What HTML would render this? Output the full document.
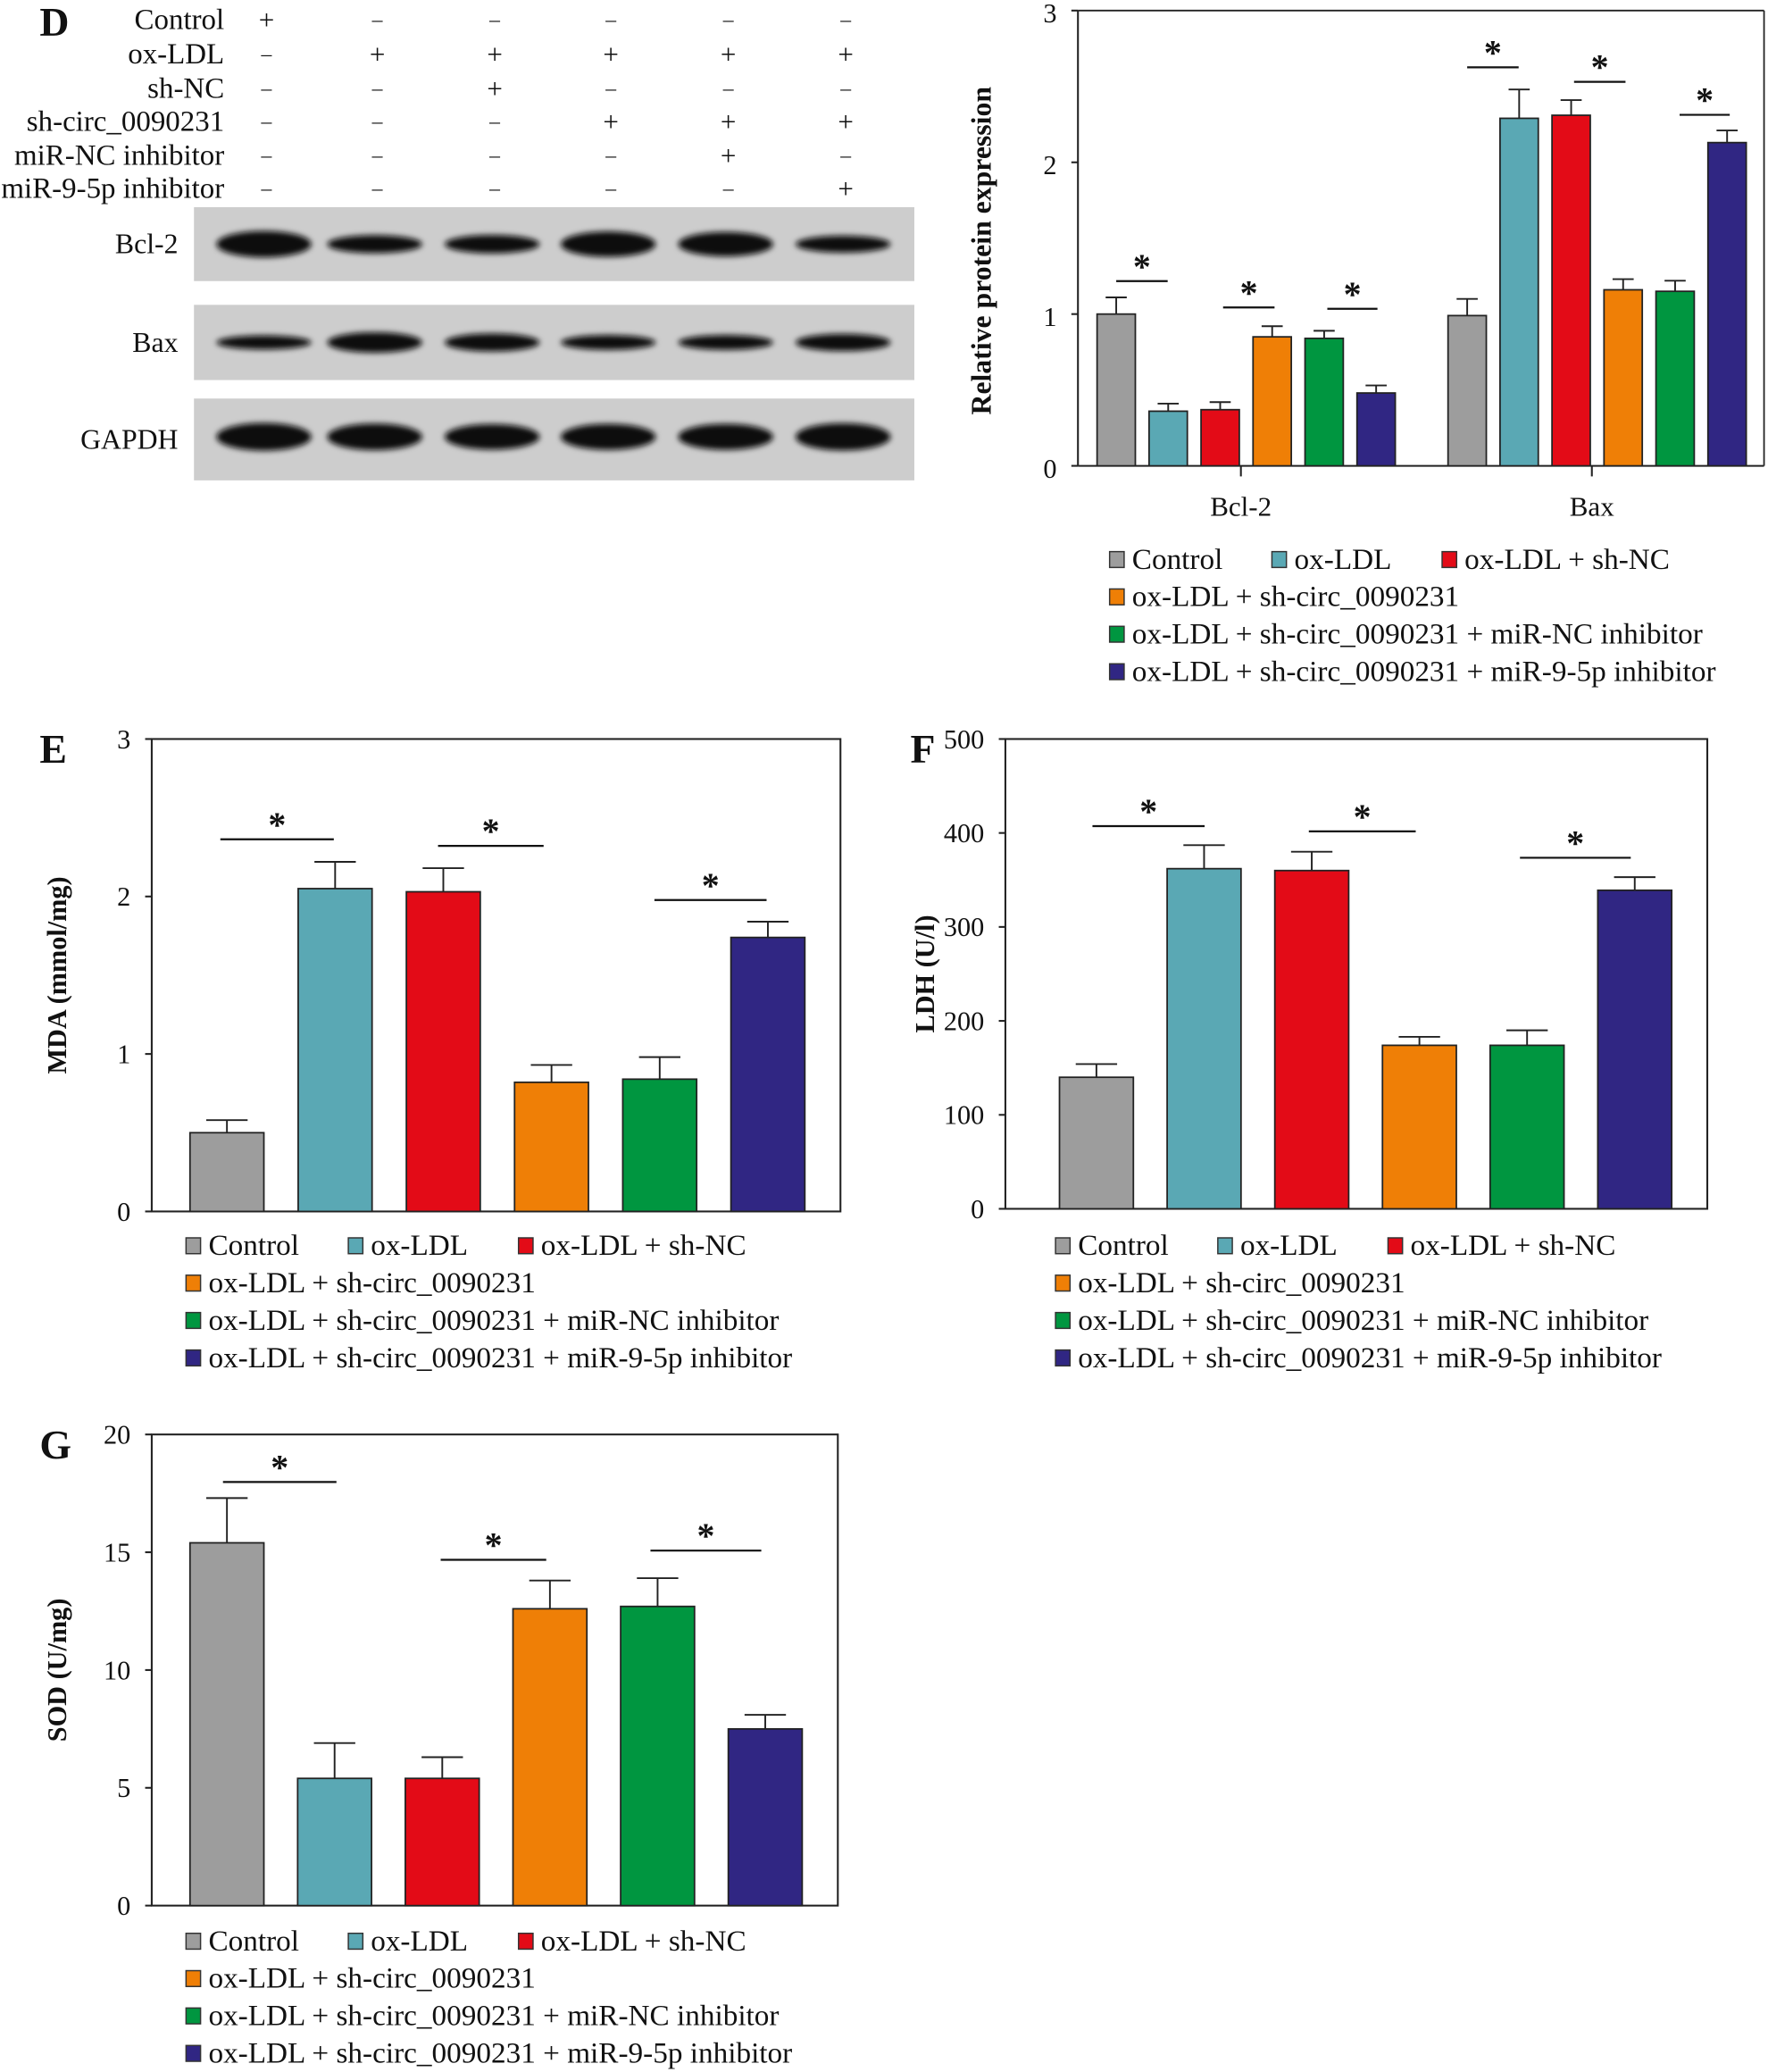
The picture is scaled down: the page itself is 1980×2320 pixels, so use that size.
<!DOCTYPE html>
<html><head><meta charset="utf-8"><style>
html,body{margin:0;padding:0;background:#fff}
svg{display:block}
text{font-family:"Liberation Serif",serif;fill:#111}
</style></head><body>
<svg id="fig" width="1980" height="2320" viewBox="0 0 1340 1570.1" preserveAspectRatio="none" xmlns="http://www.w3.org/2000/svg">
<defs><filter id="blur" x="-20%" y="-50%" width="140%" height="200%"><feGaussianBlur stdDeviation="2.2"/></filter></defs>
<g id="root"></g>
</svg>
<script>
const groups = ["Control","ox-LDL","ox-LDL + sh-NC","ox-LDL + sh-circ_0090231","ox-LDL + sh-circ_0090231 + miR-NC inhibitor","ox-LDL + sh-circ_0090231 + miR-9-5p inhibitor"];
const colors = ["#9d9d9d","#5aa8b4","#e30b17","#ef7f06","#009640","#302683"];
// Panel D
const proteinCategories = ["Bcl-2","Bax"];
const bcl2Values = [1.0,0.36,0.37,0.85,0.84,0.48];
const bcl2Errors = [0.11,0.05,0.05,0.07,0.05,0.05];
const baxValues = [0.99,2.29,2.31,1.16,1.15,2.13];
const baxErrors = [0.11,0.19,0.10,0.07,0.07,0.08];
const dTicks = [0,1,2,3];
// Panel E
const mdaValues = [0.5,2.05,2.03,0.82,0.84,1.74];
const mdaErrors = [0.08,0.17,0.15,0.11,0.14,0.10];
const mdaTicks = [0,1,2,3];
// Panel F
const ldhValues = [140,362,360,174,174,339];
const ldhErrors = [14,25,20,9,16,14];
const ldhTicks = [0,100,200,300,400,500];
// Panel G
const sodValues = [15.4,5.4,5.4,12.6,12.7,7.5];
const sodErrors = [1.9,1.5,0.9,1.2,1.2,0.6];
const sodTicks = [0,5,10,15,20];
// Western blot table
const tableRows = ["Control","ox-LDL","sh-NC","sh-circ_0090231","miR-NC inhibitor","miR-9-5p inhibitor"];
const tableSigns = [[1,0,0,0,0,0],[0,1,1,1,1,1],[0,0,1,0,0,0],[0,0,0,1,1,1],[0,0,0,0,1,0],[0,0,0,0,0,1]];
const blotNames = ["Bcl-2","Bax","GAPDH"];
const bandIntensity = [[1.0,0.6,0.62,0.95,0.9,0.55],[0.55,0.95,0.8,0.6,0.6,0.75],[1,0.95,0.9,0.92,0.92,0.98]];

const NS="http://www.w3.org/2000/svg";
const root=document.getElementById('root');
function mk(tag,attrs,parent,txt){const e=document.createElementNS(NS,tag);for(const k in attrs)e.setAttribute(k,attrs[k]);if(txt!==undefined)e.textContent=txt;(parent||root).appendChild(e);return e;}

function legend(x,y){
  const g=mk('g',{});
  
  
  const pos=[[x,y],[x+123,y],[x+252,y],[x,y+28.3],[x,y+56.6],[x,y+85]];
  groups.forEach((n,i)=>{
    const e=mk('g',{},g);
    
    
    mk('rect',{x:pos[i][0]-2,y:pos[i][1]-6,width:11,height:12,fill:colors[i],stroke:'#333','stroke-width':1},e);
    mk('text',{x:pos[i][0]+15,y:pos[i][1]+7,'font-size':22.5},e,n);
  });
}

function sig(g,x1,x2,y){
  const e=mk('g',{},g);
  
  
  mk('line',{x1:x1,x2:x2,y1:y,y2:y,stroke:'#111','stroke-width':1.5},e);
  mk('text',{x:(x1+x2)/2,y:y-2,'font-size':27,'font-weight':'bold','text-anchor':'middle','font-family':'Liberation Sans'},e,'*');
}

function barChart(o){
  const g=mk('g',{});
  
  
  const max=o.ticks[o.ticks.length-1];
  const yS=v=>o.bottom-(v/max)*(o.bottom-o.top);
  mk('rect',{x:o.left,y:o.top,width:o.right-o.left,height:o.bottom-o.top,fill:'none',stroke:'#222','stroke-width':1.4},g);
  o.ticks.forEach(t=>{
    mk('line',{x1:o.left-5,x2:o.left,y1:yS(t),y2:yS(t),stroke:'#222','stroke-width':1.4},g);
    const tl=mk('text',{x:o.left-16,y:yS(t)+7,'font-size':20.5,'text-anchor':'end'},g,t);
    
    
  });
  const yt=mk('text',{transform:`translate(${o.titleX},${(o.top+o.bottom)/2}) rotate(-90)`,'font-size':20.5,'font-weight':'bold','text-anchor':'middle'},g,o.title);
  
  
  const pl=mk('text',{x:o.letterX,y:o.top+18,'font-size':31,'font-weight':'bold'},g,o.letter);
  
  
  o.values.forEach((v,i)=>{
    const cx=o.x0+i*o.step, w=o.bw;
    const eb=mk('g',{},g);
    
    
    mk('line',{x1:cx,x2:cx,y1:yS(v),y2:yS(v+o.errors[i]),stroke:'#222','stroke-width':1.3},eb);
    mk('line',{x1:cx-w*0.28,x2:cx+w*0.28,y1:yS(v+o.errors[i]),y2:yS(v+o.errors[i]),stroke:'#222','stroke-width':1.3},eb);
    const b=mk('rect',{x:cx-w/2,y:yS(v),width:w,height:o.bottom-yS(v),fill:colors[i],stroke:'#222','stroke-width':1.2},g);
    
    
  });
  o.sigs.forEach(s=>sig(g,s[0],s[1],s[2]));
  legend(o.legendX,944+o.legendDY);
}

// Panel D chart
(function(){
  const g=mk('g',{});
  
  
  const left=817,right=1337,top=8,bottom=353,max=dTicks[dTicks.length-1];
  const yS=v=>bottom-(v/max)*(bottom-top);
  mk('line',{x1:left,x2:left,y1:top,y2:bottom,stroke:'#222','stroke-width':1.4},g);
  mk('line',{x1:left,x2:right,y1:bottom,y2:bottom,stroke:'#222','stroke-width':1.4},g);
  mk('line',{x1:right,x2:right,y1:top,y2:bottom,stroke:'#222','stroke-width':1.2},g);
  mk('line',{x1:left,x2:right,y1:top,y2:top,stroke:'#222','stroke-width':1.2},g);
  dTicks.forEach(t=>{
    mk('line',{x1:left-5,x2:left,y1:yS(t),y2:yS(t),stroke:'#222','stroke-width':1.4},g);
    const tl=mk('text',{x:left-16,y:yS(t)+9,'font-size':20.5,'text-anchor':'end'},g,t);
    
    
  });
  const yt=mk('text',{transform:`translate(751,190) rotate(-90)`,'font-size':21.5,'font-weight':'bold','text-anchor':'middle'},g,'Relative protein expression');
  
  
  const series=[[bcl2Values,bcl2Errors],[baxValues,baxErrors]];
  const gx=[846,1112], step=39.4, bw=29;
  proteinCategories.forEach((c,k)=>{
    const mid=gx[k]+2.5*step-4;
    mk('line',{x1:mid,x2:mid,y1:bottom,y2:bottom+8,stroke:'#222','stroke-width':1.4},g);
    const xl=mk('text',{x:mid,y:391,'font-size':21,'text-anchor':'middle'},g,c);
    
    
    series[k][0].forEach((v,i)=>{
      const cx=gx[k]+i*step, e=series[k][1][i];
      const eb=mk('g',{},g);
      
      
      mk('line',{x1:cx,x2:cx,y1:yS(v),y2:yS(v+e),stroke:'#222','stroke-width':1.3},eb);
      mk('line',{x1:cx-8,x2:cx+8,y1:yS(v+e),y2:yS(v+e),stroke:'#222','stroke-width':1.3},eb);
      const b=mk('rect',{x:cx-bw/2,y:yS(v),width:bw,height:bottom-yS(v),fill:colors[i],stroke:'#222','stroke-width':1.2},g);
      
      
    });
  });
  [[846,885,213],[927,966,233],[1006,1044,234],[1112,1151,51],[1193,1232,62],[1273,1311,87]].forEach(s=>sig(g,s[0],s[1],s[2]));
  legend(843,424);
})();

barChart({name:'mda-chart',letter:'E',letterX:30,title:'MDA (mmol/mg)',titleX:50,left:115,right:637,top:560,bottom:918,ticks:mdaTicks,values:mdaValues,errors:mdaErrors,x0:172,step:82,bw:56,sigs:[[167,253,636],[332,412,641],[496,581,682]],legendX:143,legendDY:0});
barChart({name:'ldh-chart',letter:'F',letterX:690,title:'LDH (U/l)',titleX:708,left:762,right:1294,top:560,bottom:916,ticks:ldhTicks,values:ldhValues,errors:ldhErrors,x0:831,step:81.6,bw:56,sigs:[[828,913,626],[992,1073,630],[1152,1236,650]],legendX:802,legendDY:0});
barChart({name:'sod-chart',letter:'G',letterX:30,title:'SOD (U/mg)',titleX:50,left:115,right:635,top:1087,bottom:1444,ticks:sodTicks,values:sodValues,errors:sodErrors,x0:172,step:81.6,bw:56,sigs:[[169,255,1123],[334,414,1182],[493,577,1175]],legendX:143,legendDY:527});

// Western blot
(function(){
  const g=mk('g',{});
  
  
  const pl=mk('text',{x:30,y:27,'font-size':31,'font-weight':'bold'},g,'D');
  
  
  const lanes=[202,286,375,463,552,641];
  const rowY=[15,41,67,92,118,143];
  tableRows.forEach((r,i)=>{
    const t=mk('text',{x:170,y:rowY[i]+7,'font-size':22.3,'text-anchor':'end'},g,r);
    
    
    tableSigns[i].forEach((s,j)=>{
      mk('text',{x:lanes[j],y:rowY[i]+(s?7:5),'font-size':s?21:16,'text-anchor':'middle'},g,s?'+':'–');
    });
  });
  const boxes=[[157,213],[231,288],[302,364]];
  const bandH=[16,12,17];
  boxes.forEach((b,k)=>{
    const bg=mk('g',{},g);
    
    
    mk('rect',{x:147,y:b[0],width:546,height:b[1]-b[0],fill:'#cdcdcd'},bg);
    const cy=(b[0]+b[1])/2;
    bandIntensity[k].forEach((v,j)=>{
      mk('ellipse',{cx:lanes[j]-2,cy:cy-(k==2?2:0),rx:36,ry:bandH[k]*v/2+2,fill:'#0a0a0a',filter:'url(#blur)'},bg);
    });
    const t=mk('text',{x:135,y:cy+7,'font-size':21.5,'text-anchor':'end'},g,blotNames[k]);
    
    
  });
})();
</script>
</body></html>
